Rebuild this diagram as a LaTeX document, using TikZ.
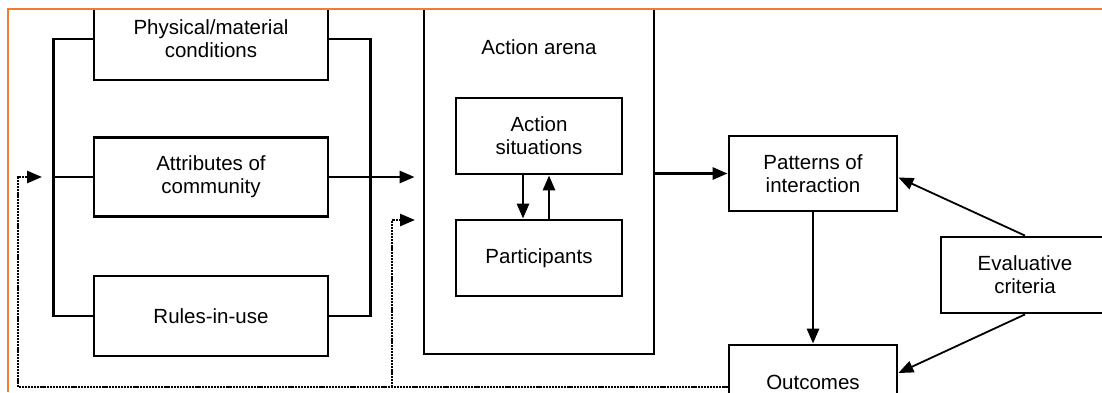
\documentclass[tikz,border=0pt]{standalone}
\usepackage{fontspec}
\setmainfont{Liberation Sans}
\usetikzlibrary{arrows.meta,calc}
\definecolor{frameorange}{RGB}{237,125,49}
\begin{document}
\begin{tikzpicture}[x=1pt,y=-1pt,
  txt/.style={align=center,inner sep=0pt,font=\fontsize{20.5}{23}\selectfont},
  box/.style={txt,draw,line width=2.8pt},
  wire/.style={line width=2.8pt},
  arr/.style={line width=2.8pt,-{Triangle[length=15pt,width=12pt]}},
  thinarr/.style={line width=1.8pt,-{Triangle[length=15pt,width=12pt]}},
  fb/.style={line width=2.6pt,dash pattern=on 2.2pt off 0.9pt,-{Triangle[length=15pt,width=12pt]}}
]
\useasboundingbox (0,0) rectangle (1102,392);
\fill[white] (0,0) rectangle (1102,392);
\begin{scope}
  \clip (8,10) rectangle (1102,392);
  % context boxes on the left
  \node[box,minimum width=234pt,minimum height=82pt] (phys) at (211,39) {Physical/material\\conditions};
  \node[box,minimum width=234pt,minimum height=79pt] (attr) at (211,177) {Attributes of\\community};
  \node[box,minimum width=234pt,minimum height=80pt] (rules) at (211,316) {Rules-in-use};
  % action arena
  \node[draw,line width=2.8pt,minimum width=230pt,minimum height=384pt,inner sep=0pt] (arena) at (539,162) {};
  \node[txt] (arenalbl) at (539,47) {Action arena};
  \node[box,minimum width=166pt,minimum height=76pt] (sit) at (539,136) {Action\\situations};
  \node[box,minimum width=166pt,minimum height=76pt] (part) at (539,258) {Participants};
  % results and evaluation
  \node[box,minimum width=168pt,minimum height=75pt] (pat) at (813,173.5) {Patterns of\\interaction};
  \node[box,minimum width=168pt,minimum height=74pt] (out) at (813,382) {Outcomes};
  \node[box,minimum width=168pt,minimum height=76pt] (eval) at (1025,275) {Evaluative\\criteria};
  % collecting buses
  \draw[wire] (phys.west) -- ++(-39,0) |- (rules.west);
  \draw[wire] (attr.west) -- ++(-39,0);
  \draw[wire] (phys.east) -- ++(41,0) |- (rules.east);
  \draw[arr,shorten >=8pt] (attr.east) -- (attr.east -| arena.west);
  % inside the arena
  \draw[arr] ([xshift=-16pt]sit.south) -- ([xshift=-16pt]part.north);
  \draw[arr] ([xshift=10pt]part.north) -- ([xshift=10pt]sit.south);
  % flow to the right
  \draw[arr] (arena.east |- pat.west) -- (pat.west);
  \draw[arr] (pat.south) -- (out.north);
  \draw[thinarr] (eval.north) -- ([yshift=-4pt]pat.east);
  \draw[thinarr] (eval.south) -- ([yshift=9pt]out.east);
  % feedback loops
  \coordinate (fbin) at (42,177);
  \coordinate (fbsplit) at (392,387);
  \coordinate (fbin2) at (415,220);
  \draw[fb] ([yshift=-5pt]out.west) -| ($(fbin)+(-24,0)$) -- (fbin);
  \draw[fb] (fbsplit) |- (fbin2);
\end{scope}
% frame
\draw[frameorange,line width=2pt] (7.5,392) -- (7.5,9) -- (1102,9);
\end{tikzpicture}
\end{document}
